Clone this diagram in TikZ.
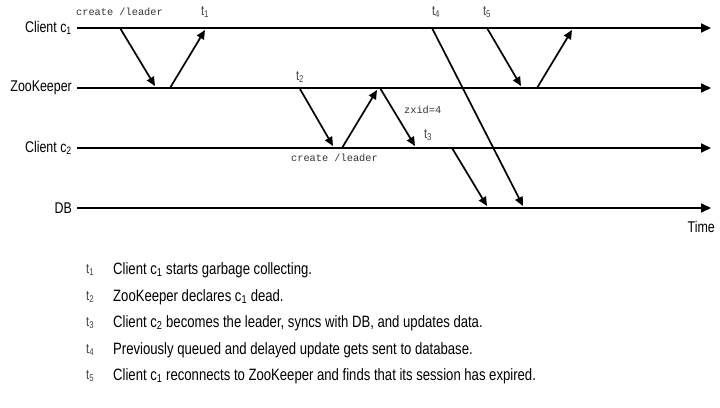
\documentclass[tikz,border=0pt]{standalone}
\usepackage{fontspec}
\setmainfont[FakeStretch=0.8]{Liberation Sans}
\setmonofont{Liberation Mono}
\usetikzlibrary{arrows.meta}
\tikzset{
  axis/.style={line width=1.8pt,-{Triangle[length=10pt,width=9pt]}},
  msg/.style={line width=1.7pt,-{Triangle[length=9pt,width=8pt]}},
  lbl/.style={anchor=east,font=\fontsize{15.5}{17}\selectfont,inner sep=0pt},
  code/.style={font=\ttfamily\fontsize{10.3}{12}\selectfont,inner sep=0pt,text=black!80},
  tk/.style={font=\fontsize{14}{16}\selectfont,inner sep=0pt,text=black!75},
  leg/.style={anchor=west,font=\fontsize{16.4}{18}\selectfont,inner sep=0pt},
}
\newcommand{\tsub}[2]{#1\textsubscript{#2}}
\begin{document}
\begin{tikzpicture}[x=1pt,y=-1pt]
\useasboundingbox (0,0) rectangle (720,407);
% timelines
\node[lbl] (lc1) at (72,28) {Client \tsub{c}{1}};
\node[lbl] (lzk) at (72,88) {ZooKeeper};
\node[lbl] (lc2) at (72,148) {Client \tsub{c}{2}};
\node[lbl] (ldb) at (72,208) {DB};
\coordinate (c1s) at (77,28);  \coordinate (c1e) at (711,28);
\coordinate (zks) at (77,88);  \coordinate (zke) at (711,88);
\coordinate (c2s) at (77,148); \coordinate (c2e) at (711,148);
\coordinate (dbs) at (77,208); \coordinate (dbe) at (711,208);
\draw[axis] (c1s) -- (c1e);
\draw[axis] (zks) -- (zke);
\draw[axis] (c2s) -- (c2e);
\draw[axis] (dbs) -- (dbe);
\node[anchor=north east,font=\fontsize{15.5}{17}\selectfont,inner sep=0pt] (time) at (715,221) {Time};
% message endpoints
\coordinate (a1) at (120,28);  \coordinate (b1) at (155,86);
\coordinate (a2) at (170,88);  \coordinate (b2) at (205,30);
\coordinate (a3) at (300,89);  \coordinate (b3) at (333,146);
\coordinate (a4) at (342,148); \coordinate (b4) at (377,90);
\coordinate (a5) at (380,88);  \coordinate (b5) at (415,146);
\coordinate (a6) at (452,148); \coordinate (b6) at (487,206);
\coordinate (a7) at (432,28);  \coordinate (b7) at (523,206);
\coordinate (a8) at (487,28);  \coordinate (b8) at (521,86);
\coordinate (a9) at (537,88);  \coordinate (b9) at (572,30);
\foreach \i in {1,...,9}{\draw[msg] (a\i) -- (b\i);}
% labels on diagram
\node[code,anchor=west] (cr1) at (76,12) {create /leader};
\node[code,anchor=west] (cr2) at (291,158) {create /leader};
\node[code,anchor=west] (zx) at (404,110) {zxid=4};
\node[tk] (t1) at (205,12) {\tsub{t}{1}};
\node[tk] (t2) at (300,77) {\tsub{t}{2}};
\node[tk] (t3) at (428,135) {\tsub{t}{3}};
\node[tk] (t4) at (436,12) {\tsub{t}{4}};
\node[tk] (t5) at (487,12) {\tsub{t}{5}};
% legend
\foreach \k/\y/\txt in {
  1/270/{Client \tsub{c}{1} starts garbage collecting.},
  2/297/{ZooKeeper declares \tsub{c}{1} dead.},
  3/323/{Client \tsub{c}{2} becomes the leader, syncs with DB, and updates data.},
  4/350/{Previously queued and delayed update gets sent to database.},
  5/376/{Client \tsub{c}{1} reconnects to ZooKeeper and finds that its session has expired.}}{
  \node[tk,anchor=west] (lt\k) at (86,\y) {\tsub{t}{\k}};
  \node[leg] (lg\k) at (113,\y) {\txt};
}
\end{tikzpicture}
\end{document}
